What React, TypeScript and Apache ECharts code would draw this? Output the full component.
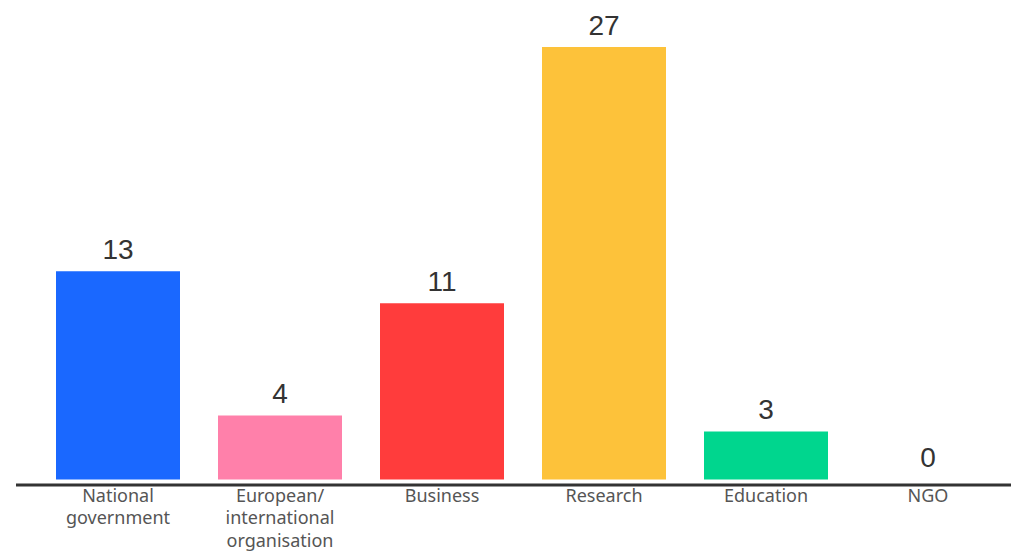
import React, { useEffect, useRef } from "react";
import * as echarts from "echarts";

const categories = [
  "National\ngovernment",
  "European/\ninternational\norganisation",
  "Business",
  "Research",
  "Education",
  "NGO",
];
const values = [13, 4, 11, 27, 3, 0];
const colors = ["#1a68ff", "#ff80aa", "#ff3c3c", "#fdc23a", "#00d68e", "#999999"];

export default function App() {
  const ref = useRef<HTMLDivElement>(null);
  useEffect(() => {
    if (!ref.current) return;
    const chart = echarts.init(ref.current, undefined, { renderer: "svg" });
    chart.setOption({
      animation: false,
      grid: { left: 37, top: 47, width: 972, bottom: 63 },
      xAxis: {
        type: "category",
        data: categories,
        axisLine: { show: false },
        axisTick: { show: false },
        axisLabel: {
          color: "#555555",
          fontSize: 18,
          fontFamily: "Noto Sans",
          lineHeight: 22.5,
          margin: 4,
          interval: 0,
        },
      },
      yAxis: {
        type: "value",
        min: 0,
        max: 27,
        show: false,
        splitLine: { show: false },
      },
      graphic: [
        {
          type: "line",
          shape: { x1: 16, y1: 485, x2: 1011, y2: 485 },
          style: { stroke: "#333333", lineWidth: 3 },
          z: 10,
        },
      ],
      series: [
        {
          type: "bar",
          data: values.map((v, i) => ({ value: v, itemStyle: { color: colors[i] } })),
          barWidth: 124,
          label: {
            show: true,
            position: "top",
            distance: 8,
            color: "#333333",
            fontSize: 28,
            fontFamily: "Liberation Sans",
          },
        },
      ],
    });
    return () => chart.dispose();
  }, []);
  return (
    <div
      ref={ref}
      style={{ position: "fixed", left: 0, top: 0, width: 1011, height: 551, background: "#fff" }}
    />
  );
}
